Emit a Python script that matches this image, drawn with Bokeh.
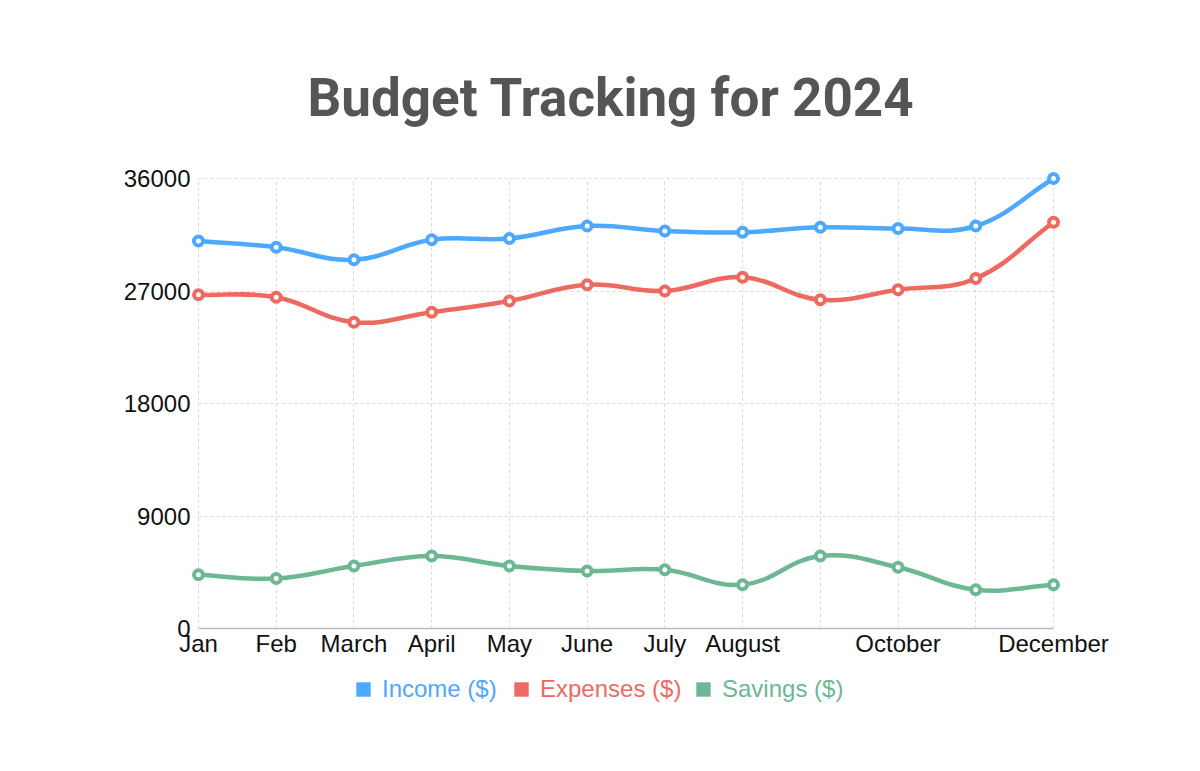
from bokeh.plotting import figure
from bokeh.models import (Range1d, FixedTicker, Legend, LegendItem, ColumnDataSource)
from bokeh.layouts import column
from bokeh.embed import file_html
from bokeh.resources import INLINE
import math

months = ["Jan", "Feb", "March", "April", "May", "June", "July", "August",
          "September", "October", "November", "December"]
shown_labels = ["Jan", "Feb", "March", "April", "May", "June", "July", "August",
                "", "October", "", "December"]
income = [31000, 30500, 29500, 31100, 31200, 32200, 31800, 31700, 32100, 32000, 32200, 36000]
expenses = [26700, 26500, 24500, 25300, 26200, 27500, 27000, 28100, 26300, 27100, 28000, 32500]
savings = [4300, 4000, 5000, 5800, 5000, 4600, 4700, 3500, 5800, 4900, 3100, 3500]
y_ticks = [0, 9000, 18000, 27000, 36000]
y_max = 36000

series = [("Income ($)", income, "#4DA8FF"),
          ("Expenses ($)", expenses, "#EE6A60"),
          ("Savings ($)", savings, "#6DB894")]

W = 1184
H_MAIN = 665
H_LEG = 85
X0, X1, Y0, Y1 = 198, 1053, 628, 178   # pixel spots of first/last month and 0/max
PAD = 7
FL, FR, FT, FB = X0 - PAD, X1 + PAD, Y1 - PAD, Y0
n = len(months)
xs = list(range(n))
sx = (X1 - X0) / (n - 1)
sy = (Y0 - Y1) / y_max

p = figure(width=W, height=H_MAIN, output_backend="svg", toolbar_location=None,
           x_range=Range1d(-PAD / sx, (n - 1) + PAD / sx),
           y_range=Range1d(0, y_max + PAD / sy),
           min_border_left=FL, min_border_right=W - FR,
           min_border_top=FT, min_border_bottom=H_MAIN - FB,
           title="Budget Tracking for 2024")
p.outline_line_color = None
p.background_fill_color = "white"
p.border_fill_color = "white"
p.title.align = "left"
p.title.offset = 307 - FL
p.title.text_font = "Roboto"
p.title.text_font_style = "bold"
p.title.text_font_size = "53px"
p.title.text_color = "#555555"
p.title.standoff = 85

for g in (p.xgrid, p.ygrid):
    g.grid_line_color = "#d9d9d9"
    g.grid_line_dash = "3 3"
    g.grid_line_width = 1
p.xgrid.cross_bounds = (0, y_max)
p.ygrid.cross_bounds = (0, n - 1)
p.xaxis.ticker = FixedTicker(ticks=xs)
p.yaxis.ticker = FixedTicker(ticks=y_ticks)
p.xgrid.ticker = FixedTicker(ticks=xs)
p.ygrid.ticker = FixedTicker(ticks=y_ticks)
p.xaxis.major_label_overrides = {i: lab for i, lab in enumerate(shown_labels)}
p.yaxis.major_label_overrides = {v: str(v) for v in y_ticks}
p.xaxis.bounds = (0, n - 1)

for ax in (p.xaxis, p.yaxis):
    ax.major_tick_line_color = None
    ax.minor_tick_line_color = None
    ax.major_tick_out = 0
    ax.major_tick_in = 0
    ax.minor_tick_out = 0
    ax.minor_tick_in = 0
    ax.major_label_text_font = "Liberation Sans"
    ax.major_label_text_font_size = "24px"
    ax.major_label_text_color = "#111111"
p.xaxis.axis_line_color = "#bbbbbb"
p.xaxis.axis_line_width = 1.5
p.yaxis.axis_line_color = None
p.xaxis.major_label_standoff = 1
p.yaxis.major_label_standoff = 1


def spline_controls(x, y, t=0.4):
    m = len(x)
    P = [(x[i] * sx, y[i] * sy) for i in range(m)]
    prev_c, next_c = [], []
    for i in range(m):
        cur = P[i]
        pr = P[i - 1] if i > 0 else cur
        nx = P[i + 1] if i < m - 1 else cur
        d01 = math.dist(cur, pr)
        d12 = math.dist(nx, cur)
        s = d01 + d12
        s01 = d01 / s if s else 0
        s12 = d12 / s if s else 0
        fa, fb = t * s01, t * s12
        prev_c.append((cur[0] - fa * (nx[0] - pr[0]), cur[1] - fa * (nx[1] - pr[1])))
        next_c.append((cur[0] + fb * (nx[0] - pr[0]), cur[1] + fb * (nx[1] - pr[1])))
    seg = dict(x0=[], y0=[], x1=[], y1=[], cx0=[], cy0=[], cx1=[], cy1=[])
    for i in range(m - 1):
        seg["x0"].append(x[i]); seg["y0"].append(y[i])
        seg["x1"].append(x[i + 1]); seg["y1"].append(y[i + 1])
        seg["cx0"].append(next_c[i][0] / sx); seg["cy0"].append(next_c[i][1] / sy)
        seg["cx1"].append(prev_c[i + 1][0] / sx); seg["cy1"].append(prev_c[i + 1][1] / sy)
    return seg


# legend strip below the chart (frame aligned with the chart's frame)
lf = figure(width=W, height=H_LEG, output_backend="svg", toolbar_location=None,
            x_range=Range1d(0, 1), y_range=Range1d(0, 1),
            x_axis_location=None, y_axis_location=None,
            min_border=0)
lf.outline_line_color = None
lf.grid.visible = False
lf.border_fill_color = "white"

legend_x = [354 - FL, 512 - FL, 694 - FL]
for k, (name, vals, col) in enumerate(series):
    src = ColumnDataSource(spline_controls(xs, vals))
    p.bezier(x0="x0", y0="y0", x1="x1", y1="y1", cx0="cx0", cy0="cy0",
             cx1="cx1", cy1="cy1", source=src, line_color=col, line_width=4.5)
    p.scatter(xs, vals, size=9, marker="circle", fill_color="white",
              line_color=col, line_width=4)
    dummy = lf.quad(left=[float("nan")], right=[float("nan")], top=[float("nan")],
                    bottom=[float("nan")], fill_color=col, line_color=None)
    leg = Legend(items=[LegendItem(label=name, renderers=[dummy])],
                 location=(legend_x[k], 47), orientation="horizontal",
                 glyph_width=18, glyph_height=18, label_standoff=10,
                 label_text_font="Liberation Sans", label_text_font_size="24px",
                 label_text_color=col, padding=0, margin=0, spacing=0,
                 background_fill_alpha=0, border_line_color=None,
                 label_height=18, label_text_baseline="middle")
    lf.add_layout(leg, "center")

open("out.html", "w").write(file_html(column(p, lf, spacing=0), INLINE))
